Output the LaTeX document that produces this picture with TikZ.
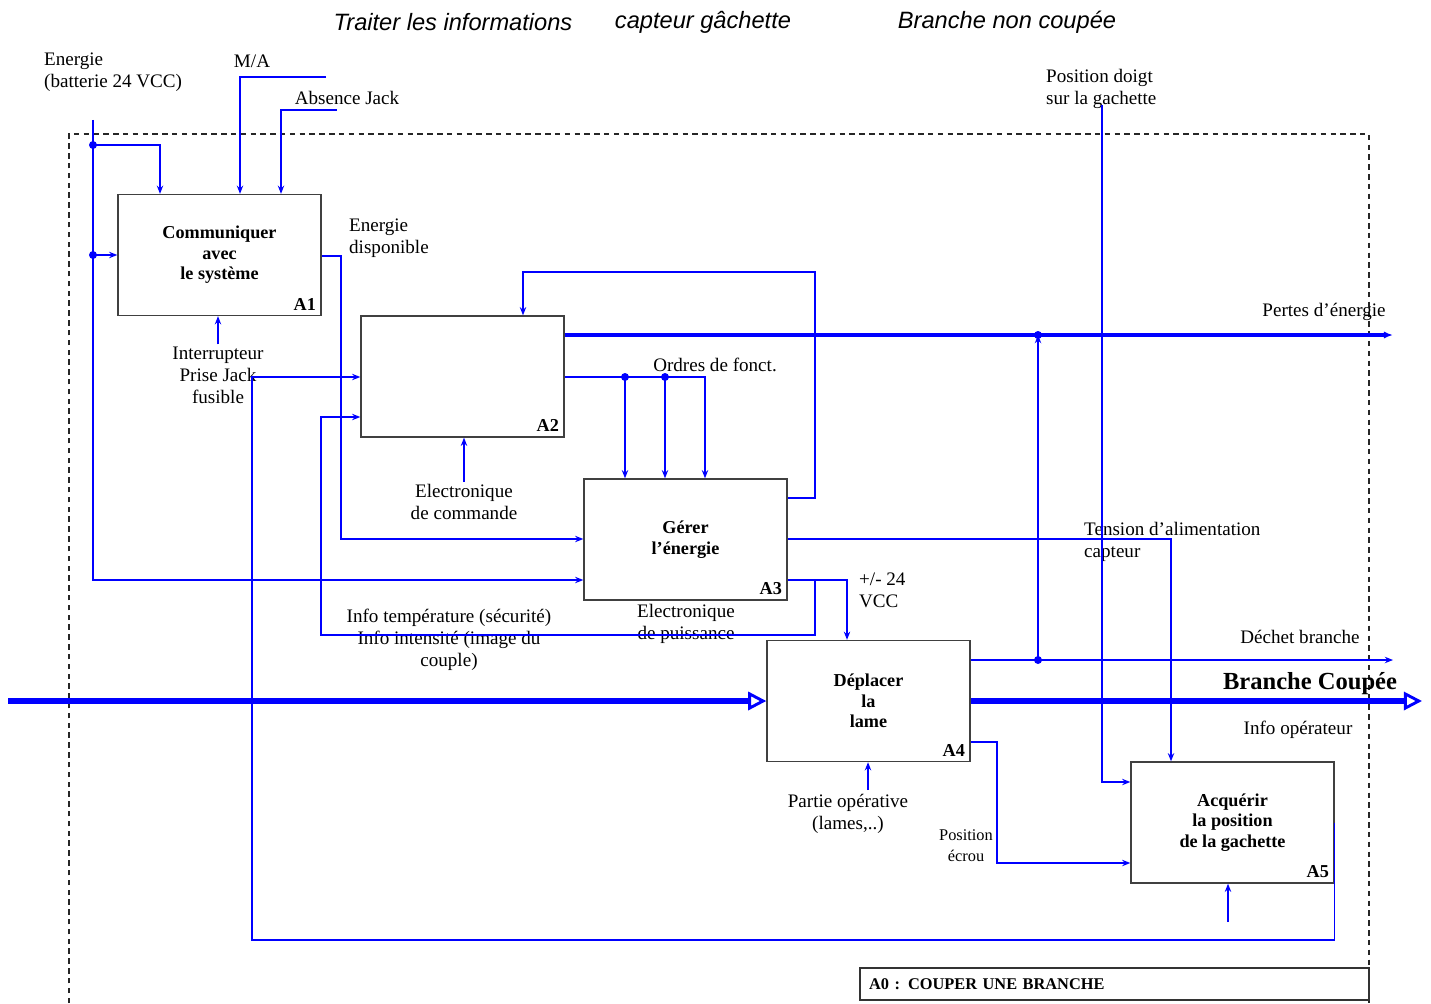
\documentclass[tikz,border=0pt]{standalone}
\usepackage{fontspec}
\setmainfont{Liberation Serif}
\newfontfamily\sansit{Liberation Sans}
\usetikzlibrary{calc,arrows.meta,positioning}
\tikzset{>={Stealth[length=4.5pt,width=3.5pt]}}
\tikzset{
  fbox/.style={draw=black!75, line width=0.8pt, minimum width=111.6pt, minimum height=66.5pt, inner sep=0pt, align=center, font=\fontsize{10}{11.3}\selectfont\bfseries},
  tag/.style={anchor=south east, inner sep=3pt, font=\fontsize{10}{11}\selectfont\bfseries},
  flow/.style={draw=blue, line width=0.8pt, ->},
  heavy/.style={draw=blue, line width=2pt, -{Latex[length=5pt,width=4pt]}},
  main/.style={draw=blue, line width=2.8pt, -{Triangle[open,length=10pt,width=10pt,line width=1.6pt]}},
  txt/.style={inner sep=1pt, align=center, font=\fontsize{10.5}{12.1}\selectfont},
  ltxt/.style={txt, align=left, anchor=west},
  head/.style={inner sep=1pt, font=\sansit\itshape\fontsize{13}{15}\selectfont},
  jdot/.style={fill=blue},
}
\begin{document}
\begin{tikzpicture}[x=0.55pt,y=-0.55pt]
\useasboundingbox[fill=white] (0,0) rectangle (1431,1003);
\draw[black!85, dash pattern=on 3pt off 2.4pt, line width=0.6pt] (69,1003) -- (69,134) -- (1369,134) -- (1369,1003);

\node[head] (h1) at (453,22) {Traiter les informations};
\node[head] (h2) at (703,22) {capteur gâchette};
\node[head] (h3) at (1007,22) {Branche non coupée};

\node[fbox, label={[tag]south east:A1}] (A1) at (219.5,255) {Communiquer\\avec\\le système};
\node[fbox, label={[tag]south east:A2}] (A2) at (462.5,376.5) {};
\node[fbox, label={[tag]south east:A3}] (A3) at (685.5,539.5) {Gérer\\l'énergie};
\node[fbox, label={[tag]south east:A4}] (A4) at (868.5,701) {Déplacer\\la\\lame};
\node[fbox, label={[tag]south east:A5}] (A5) at (1232.5,822.5) {Acquérir\\la position\\de la gachette};
\node[draw=black!80, line width=0.8pt, minimum height=17.6pt, text width=270pt, inner xsep=5pt, inner ysep=0pt, align=left, font=\fontsize{9}{10}\selectfont\bfseries] (A0) at (1114.5,984) {A0 : COUPER UNE BRANCHE};

\node[ltxt] (ener) at (42,72) {Energie\\(batterie 24 VCC)};
\node[txt] (ma) at (252,61) {M/A};
\node[txt] (abs) at (347,98) {Absence Jack};
\node[ltxt] (edisp) at (347,238) {Energie\\disponible};
\node[txt] (inter) at (218,375) {Interrupteur\\Prise Jack\\fusible};
\node[txt] (ordres) at (715,365) {Ordres de fonct.};
\node[txt] (ecmd) at (464,502) {Electronique\\de commande};
\node[txt] (epuis) at (686,624) {Electronique\\de puissance};
\node[txt] (infos) at (449,640) {Info température (sécurité)\\Info intensité (image du\\couple)};
\node[ltxt] (vcc) at (857,590) {+/- 24\\VCC};
\node[ltxt] (tens) at (1082,542) {Tension d'alimentation\\capteur};
\node[txt] (pertes) at (1324,312) {Pertes d'énergie};
\node[ltxt] (pdoigt) at (1044,89) {Position doigt\\sur la gachette};
\node[txt] (dechet) at (1300,637) {Déchet branche};
\node[txt, font=\fontsize{13.5}{15}\selectfont\bfseries] (bcoup) at (1310,684) {Branche Coupée};
\node[txt] (infop) at (1298,730) {Info opérateur};
\node[txt] (pop) at (848,814) {Partie opérative\\(lames,..)};
\node[txt, font=\fontsize{9}{11.5}\selectfont] (pecrou) at (966,846) {Position\\écrou};

\coordinate (eIn) at (93,120);
\coordinate (j1) at (93,145);
\coordinate (j2) at (93,255);
\coordinate (maIn) at (326,77);
\coordinate (absIn) at (337,110);
\coordinate (j3) at (1038,335);
\coordinate (j4) at (1038,660);
\coordinate (j5) at (625,377);
\coordinate (j6) at (665,377);
\coordinate (pdIn) at (1102,105);
\coordinate (bIn) at (8,701);
\coordinate (poIn) at (868,790);
\coordinate (a5In) at (1228,922);

\draw[flow] (eIn) |- (A3.west |- 0,580);
\draw[flow] (j1) -| (A1.north -| 160,0);
\draw[flow] (j2) -- (A1.west |- j2);
\draw[flow] (maIn) -| (A1.north -| 240,0);
\draw[flow] (absIn) -| (A1.north -| 281,0);
\draw[flow] (inter.north) -- (A1.south -| inter.north);
\draw[flow] (A1.east |- 0,256) -- (341,256) -- (341,539) -- (A3.west |- 0,539);
\draw[flow] (A5.east) -- (A5.east |- 0,940) -| (252,377) -- (A2.west |- 0,377);
\draw[flow] (815,580) -- (815,635) -| (321,417) -- (A2.west |- 0,417);
\draw[flow] (A3.east |- 0,580) -| (A4.north -| 847,0);
\draw[flow] (A3.east |- 0,498) -| (815,272) -| (A2.north -| 523,0);
\draw[heavy] (A2.east |- 0,335) -- (1393,335);
\draw[flow] (j4) -- (j3);
\draw[flow] (A4.east |- j4) -- (1393,660);
\draw[flow] (A2.east |- j5) -| (A3.north -| 705,0);
\draw[flow] (j5) -- (A3.north -| j5);
\draw[flow] (j6) -- (A3.north -| j6);
\draw[flow] (ecmd.north) -- (A2.south -| ecmd.north);
\draw[flow] (A3.east |- 0,539) -| (A5.north -| 1171,0);
\draw[flow] (pdIn) |- (A5.west |- 0,782);
\draw[main] (bIn) -- (A4.west);
\draw[main] (A4.east) -- (1422,701);
\draw[flow] (A4.east |- 0,742) -| (997,800) |- (A5.west |- 0,863);
\draw[flow] (poIn) -- (A4.south -| poIn);
\draw[flow] (a5In) -- (A5.south -| a5In);

\foreach \j in {j1,j2,j3,j4,j5,j6}
  \fill[jdot] (\j) circle (2.2pt);
\end{tikzpicture}
\end{document}
